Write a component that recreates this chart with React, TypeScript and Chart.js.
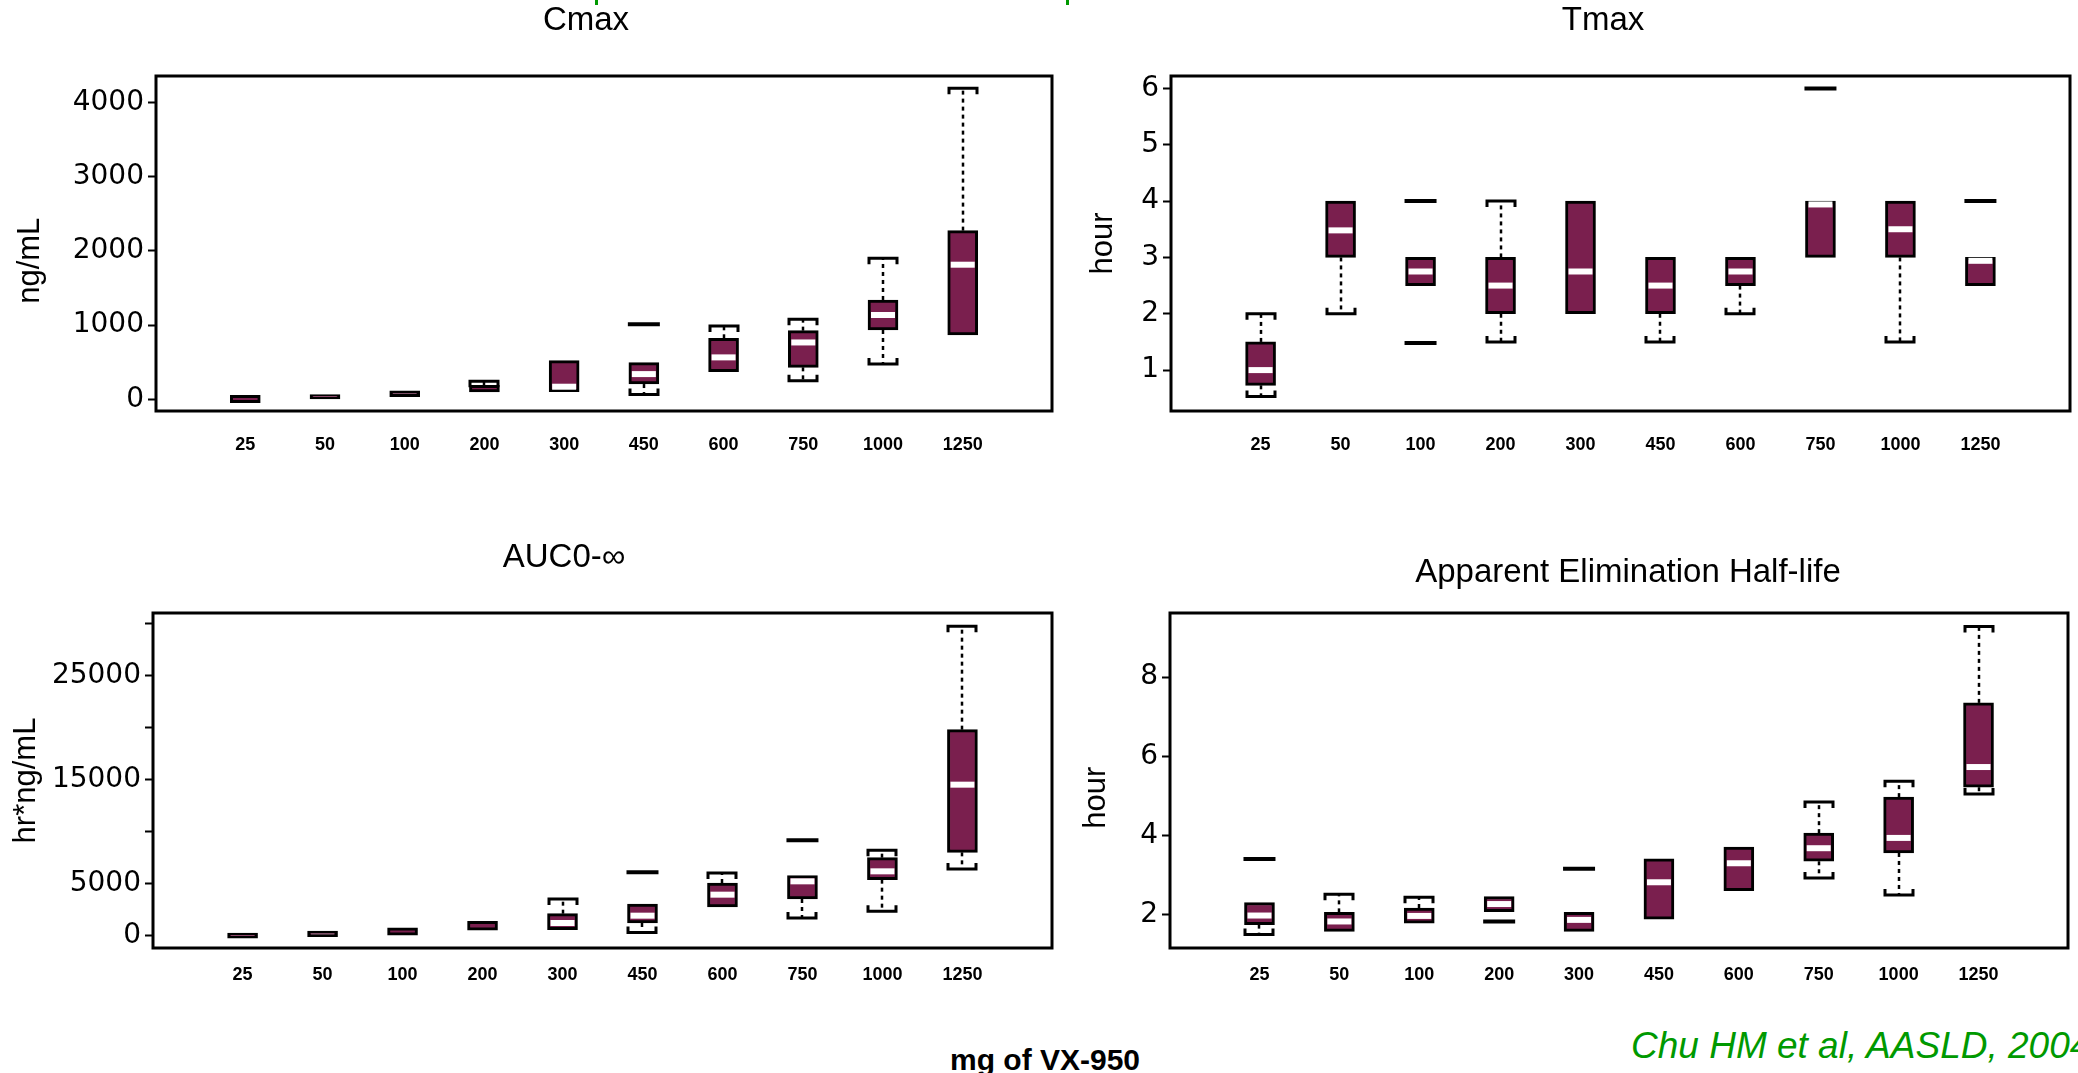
import React, { useEffect, useRef } from 'react';
import { Chart, registerables } from 'chart.js';

Chart.register(...registerables);

const FONT = "'Liberation Sans', Arial, Helvetica, sans-serif";
const TICK_FONT = "'DejaVu Sans', 'Liberation Sans', Arial, sans-serif";
const MAROON = '#7a1f4e';
const BOX_W = 30;
Chart.defaults.font.family = FONT;
Chart.defaults.color = '#000';

// Dose groups (mg of VX-950)
const doses = ['25', '50', '100', '200', '300', '450', '600', '750', '1000', '1250'];

// Cmax (ng/mL)
const cmaxMin = [-45, 0, 35, 100, 103, 65, 373, 251, 476, 866];
const cmaxQ1 = [-45, 0, 35, 100, 103, 206, 373, 431, 934, 866];
const cmaxMedian = [5, 35, 75, 145, 170, 340, 565, 766, 1136, 1813];
const cmaxQ3 = [55, 65, 115, 190, 521, 494, 822, 925, 1338, 2272];
const cmaxMax = [55, 65, 115, 245, 521, 494, 988, 1077, 1899, 4189];
const cmaxOutlierDose = ['450'];
const cmaxOutlierValue = [1010];
const cmaxTicks = [0, 1000, 2000, 3000, 4000];
const cmaxTickLabels = ['0', '1000', '2000', '3000', '4000'];

// Tmax (hour)
const tmaxMin = [0.53, 2.0, 2.5, 1.5, 2.0, 1.5, 2.0, 3.0, 1.5, 2.5];
const tmaxQ1 = [0.73, 3.0, 2.5, 2.0, 2.0, 2.0, 2.5, 3.0, 3.0, 2.5];
const tmaxMedian = [1.0, 3.48, 2.75, 2.5, 2.75, 2.5, 2.75, 3.94, 3.5, 2.94];
const tmaxQ3 = [1.5, 4.0, 3.0, 3.0, 4.0, 3.0, 3.0, 4.0, 4.0, 3.0];
const tmaxMax = [2.0, 4.0, 3.0, 4.0, 4.0, 3.0, 3.0, 4.0, 4.0, 3.0];
const tmaxOutlierDose = ['100', '100', '750', '1250'];
const tmaxOutlierValue = [4.0, 1.48, 6.0, 4.0];
const tmaxTicks = [1, 2, 3, 4, 5, 6];
const tmaxTickLabels = ['1', '2', '3', '4', '5', '6'];

// AUC0-inf (hr*ng/mL)
const aucMin = [-250, -100, 0, 520, 577, 300, 2756, 1699, 2340, 6410];
const aucQ1 = [-250, -100, 0, 520, 577, 1218, 2756, 3526, 5385, 8013];
const aucMedian = [0, 150, 400, 950, 1218, 1923, 3942, 5224, 6186, 14519];
const aucQ3 = [250, 450, 750, 1390, 2115, 3045, 5064, 5769, 7500, 19808];
const aucMax = [250, 450, 750, 1390, 3526, 3045, 6025, 5769, 8205, 29744];
const aucOutlierDose = ['450', '750'];
const aucOutlierValue = [6090, 9167];
const aucTicks = [0, 5000, 10000, 15000, 20000, 25000, 30000];
const aucTickLabels = ['0', '5000', '', '15000', '', '25000', ''];

// Apparent elimination half-life (hour)
const hlMin = [1.5, 1.58, 1.79, 2.08, 1.58, 1.89, 2.61, 2.93, 2.5, 5.05];
const hlQ1 = [1.75, 1.58, 1.79, 2.08, 1.58, 1.89, 2.61, 3.35, 3.56, 5.22];
const hlMedian = [1.98, 1.83, 1.97, 2.27, 1.87, 2.82, 3.3, 3.68, 3.94, 5.73];
const hlQ3 = [2.31, 2.06, 2.17, 2.46, 2.06, 3.41, 3.71, 4.06, 4.97, 7.35];
const hlMax = [2.31, 2.52, 2.44, 2.46, 2.06, 3.41, 3.71, 4.85, 5.37, 9.28];
const hlOutlierDose = ['25', '200', '300'];
const hlOutlierValue = [3.41, 1.83, 3.16];
const hlTicks = [2, 4, 6, 8];
const hlTickLabels = ['2', '4', '6', '8'];

type Stats = { min: number[]; q1: number[]; med: number[]; q3: number[]; max: number[] };

type PanelDef = {
  title: string;
  yTitle: string;
  stats: Stats;
  outDose: string[];
  outVal: number[];
  ticks: number[];
  tickLabels: string[];
  yMin: number;
  yMax: number;
  left: number;
  top: number;
  width: number;
  height: number;
  yAxisW: number;
  rightW: number;
  xAxisH: number;
  titlePadTop: number;
  titlePadBottom: number;
  yTitlePad: number;
  xTickPad: number;
};

function boxPlugin(st: Stats) {
  return {
    id: 'boxWhiskers',
    beforeDatasetsDraw(chart: any) {
      const { ctx } = chart;
      const xs = chart.scales.x;
      const ys = chart.scales.y;
      const half = BOX_W / 2 - 1;
      ctx.save();
      ctx.strokeStyle = '#000';
      st.q1.forEach((_, i) => {
        const cx = Math.round(xs.getPixelForValue(i));
        const parts: [number, number, number][] = [
          [st.q3[i], st.max[i], 1],
          [st.q1[i], st.min[i], -1],
        ];
        for (const [from, to, dir] of parts) {
          if ((dir > 0 && to <= from) || (dir < 0 && to >= from)) continue;
          const y0 = ys.getPixelForValue(from);
          const y1 = ys.getPixelForValue(to);
          ctx.setLineDash([4, 4]);
          ctx.lineWidth = 2.5;
          ctx.beginPath();
          ctx.moveTo(cx, y0);
          ctx.lineTo(cx, y1);
          ctx.stroke();
          ctx.setLineDash([]);
          ctx.lineWidth = 3;
          const t = dir > 0 ? 6 : -6;
          ctx.beginPath();
          ctx.moveTo(cx - half, y1 + t);
          ctx.lineTo(cx - half, y1);
          ctx.lineTo(cx + half, y1);
          ctx.lineTo(cx + half, y1 + t);
          ctx.stroke();
        }
      });
      ctx.restore();
    },
    afterDatasetsDraw(chart: any) {
      const { ctx } = chart;
      const xs = chart.scales.x;
      const ys = chart.scales.y;
      const half = BOX_W / 2 - 3;
      ctx.save();
      ctx.strokeStyle = '#ffffff';
      ctx.lineWidth = 6;
      st.med.forEach((m, i) => {
        const top = ys.getPixelForValue(st.q3[i]);
        const bot = ys.getPixelForValue(st.q1[i]);
        if (bot - top < 12) return;
        const cx = xs.getPixelForValue(i);
        const y = ys.getPixelForValue(m);
        ctx.beginPath();
        ctx.moveTo(cx - half, y);
        ctx.lineTo(cx + half, y);
        ctx.stroke();
      });
      ctx.restore();
    },
  };
}

const framePlugin = {
  id: 'frame',
  afterDraw(chart: any) {
    const { ctx, chartArea: a } = chart;
    ctx.save();
    ctx.strokeStyle = '#000';
    ctx.lineWidth = 3;
    ctx.strokeRect(a.left, a.top, a.right - a.left, a.bottom - a.top);
    ctx.restore();
  },
};

function BoxPanel({ p }: { p: PanelDef }) {
  const ref = useRef<HTMLCanvasElement>(null);
  useEffect(() => {
    const st = p.stats;
    const chart = new Chart(ref.current as HTMLCanvasElement, {
      type: 'bar',
      data: {
        datasets: [
          {
            type: 'bar',
            data: doses.map((_, i) => ({ x: i, y: [st.q1[i], st.q3[i]] })) as any,
            backgroundColor: MAROON,
            borderColor: '#000',
            borderWidth: 3,
            borderSkipped: false,
            barThickness: BOX_W,
            xAxisID: 'x',
            yAxisID: 'y',
          } as any,
          {
            type: 'scatter',
            data: p.outDose.map((d, k) => ({ x: doses.indexOf(d), y: p.outVal[k] })),
            pointStyle: 'line',
            radius: 16,
            borderWidth: 4,
            borderColor: '#000',
            backgroundColor: '#000',
            xAxisID: 'x',
            yAxisID: 'y',
          } as any,
        ],
      },
      options: {
        animation: false,
        responsive: false,
        devicePixelRatio: 1,
        events: [],
        layout: { padding: 0, autoPadding: false },
        plugins: {
          legend: { display: false },
          tooltip: { enabled: false },
          title: {
            display: true,
            text: p.title,
            color: '#000',
            font: { size: 33, weight: 'normal', family: FONT, lineHeight: 1.2 },
            padding: { top: p.titlePadTop, bottom: p.titlePadBottom },
          },
        },
        scales: {
          x: {
            type: 'linear',
            min: -1.12,
            max: 10.12,
            offset: false,
            afterBuildTicks: (s: any) => {
              s.ticks = doses.map((_, i) => ({ value: i }));
            },
            afterFit: (s: any) => {
              s.height = p.xAxisH;
            },
            ticks: {
              autoSkip: false,
              maxRotation: 0,
              padding: p.xTickPad,
              color: '#000',
              font: { size: 18, weight: 'bold', family: FONT },
              callback: (v: any) => doses[Math.round(Number(v))] ?? '',
            },
            grid: { display: false },
            border: { display: false },
          },
          y: {
            type: 'linear',
            position: 'left',
            min: p.yMin,
            max: p.yMax,
            afterBuildTicks: (s: any) => {
              s.ticks = p.ticks.map((v) => ({ value: v }));
            },
            afterFit: (s: any) => {
              s.width = p.yAxisW;
            },
            ticks: {
              autoSkip: false,
              padding: 4,
              color: '#000',
              font: { size: 28, family: TICK_FONT },
              callback: (_v: any, idx: number) => p.tickLabels[idx] ?? '',
            },
            grid: {
              display: true,
              drawOnChartArea: false,
              drawTicks: true,
              tickLength: 8,
              tickWidth: 2,
              tickColor: '#000',
              color: '#000',
            },
            border: { display: false },
            title: {
              display: true,
              text: p.yTitle,
              color: '#000',
              font: { size: 31, family: FONT, lineHeight: 1.0 },
              padding: { top: p.yTitlePad, bottom: 0 },
            },
          },
          yR: {
            type: 'linear',
            position: 'right',
            display: true,
            afterFit: (s: any) => {
              s.width = p.rightW;
            },
            ticks: { display: false },
            grid: { display: false },
            border: { display: false },
          },
        },
      } as any,
      plugins: [boxPlugin(st), framePlugin],
    });
    return () => chart.destroy();
  }, [p]);
  return (
    <canvas
      ref={ref}
      width={p.width}
      height={p.height}
      style={{ position: 'absolute', left: p.left, top: p.top, width: p.width, height: p.height }}
    />
  );
}

const panels: PanelDef[] = [
  {
    title: 'Cmax',
    yTitle: 'ng/mL    ',
    stats: { min: cmaxMin, q1: cmaxQ1, med: cmaxMedian, q3: cmaxQ3, max: cmaxMax },
    outDose: cmaxOutlierDose,
    outVal: cmaxOutlierValue,
    ticks: cmaxTicks,
    tickLabels: cmaxTickLabels,
    yMin: -157,
    yMax: 4354,
    left: 0,
    top: 0,
    width: 1172,
    height: 460,
    yAxisW: 156,
    rightW: 120,
    xAxisH: 49,
    titlePadTop: 1,
    titlePadBottom: 35.4,
    yTitlePad: 14.5,
    xTickPad: 15,
  },
  {
    title: 'Tmax',
    yTitle: 'hour',
    stats: { min: tmaxMin, q1: tmaxQ1, med: tmaxMedian, q3: tmaxQ3, max: tmaxMax },
    outDose: tmaxOutlierDose,
    outVal: tmaxOutlierValue,
    ticks: tmaxTicks,
    tickLabels: tmaxTickLabels,
    yMin: 0.274,
    yMax: 6.22,
    left: 1080,
    top: 0,
    width: 1046,
    height: 460,
    yAxisW: 91,
    rightW: 56,
    xAxisH: 49,
    titlePadTop: 1,
    titlePadBottom: 35.4,
    yTitlePad: 7.5,
    xTickPad: 15,
  },
  {
    title: 'AUC0-\u221E',
    yTitle: 'hr*ng/mL',
    stats: { min: aucMin, q1: aucQ1, med: aucMedian, q3: aucQ3, max: aucMax },
    outDose: aucOutlierDose,
    outVal: aucOutlierValue,
    ticks: aucTicks,
    tickLabels: aucTickLabels,
    yMin: -1186,
    yMax: 31026,
    left: 0,
    top: 520,
    width: 1128,
    height: 480,
    yAxisW: 153,
    rightW: 76,
    xAxisH: 52,
    titlePadTop: 18.2,
    titlePadBottom: 35.2,
    yTitlePad: 11,
    xTickPad: 8,
  },
  {
    title: 'Apparent Elimination Half-life',
    yTitle: 'hour    ',
    stats: { min: hlMin, q1: hlQ1, med: hlMedian, q3: hlQ3, max: hlMax },
    outDose: hlOutlierDose,
    outVal: hlOutlierValue,
    ticks: hlTicks,
    tickLabels: hlTickLabels,
    yMin: 1.16,
    yMax: 9.62,
    left: 1080,
    top: 520,
    width: 1096,
    height: 480,
    yAxisW: 90,
    rightW: 108,
    xAxisH: 52,
    titlePadTop: 33.2,
    titlePadBottom: 20.2,
    yTitlePad: 0.5,
    xTickPad: 8,
  },
];

export default function App() {
  return (
    <div
      style={{
        position: 'absolute',
        left: 0,
        top: 0,
        width: 2078,
        height: 1073,
        overflow: 'hidden',
        background: '#fff',
        fontFamily: FONT,
      }}
    >
      <div style={{ position: 'absolute', left: 595, top: 0, width: 3, height: 5, background: '#009900' }} />
      <div style={{ position: 'absolute', left: 1066, top: 0, width: 3, height: 5, background: '#009900' }} />
      {panels.map((p, i) => (
        <BoxPanel key={i} p={p} />
      ))}
      <div
        style={{
          position: 'absolute',
          left: 950,
          top: 1045,
          fontSize: 30,
          lineHeight: 1,
          fontWeight: 'bold',
          color: '#000',
          whiteSpace: 'nowrap',
        }}
      >
        mg of VX-950
      </div>
      <div
        style={{
          position: 'absolute',
          left: 1631,
          top: 1027,
          fontSize: 37,
          lineHeight: 1,
          fontStyle: 'italic',
          color: '#009900',
          whiteSpace: 'nowrap',
        }}
      >
        Chu HM et al, AASLD, 2004
      </div>
    </div>
  );
}
